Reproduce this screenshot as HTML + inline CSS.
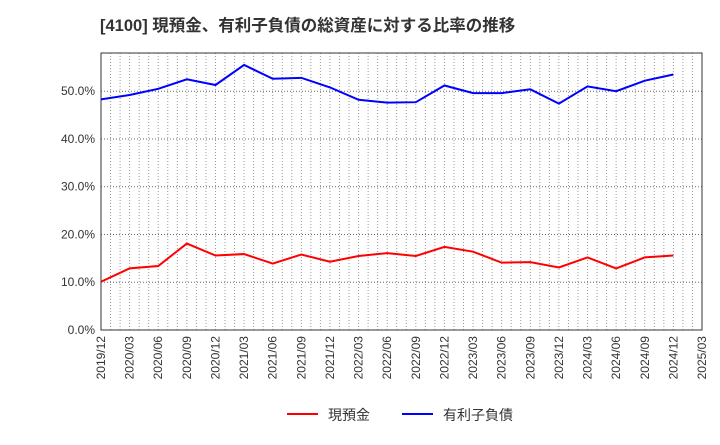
<!DOCTYPE html>
<html><head><meta charset="utf-8"><style>
body{margin:0;background:#fff;font-family:"Liberation Sans","Noto Sans CJK JP",sans-serif;}
</style></head><body>
<svg id="c" width="720" height="440" xmlns="http://www.w3.org/2000/svg">
<text x="100" y="31" font-size="16.5" font-weight="bold" fill="#333" font-family="Liberation Sans,Noto Sans CJK JP,sans-serif">[4100]  現預金、有利子負債の総資産に対する比率の推移</text>
<g id="grid"></g><g id="axes"></g><g id="series"></g>
<g>
<line x1="287" y1="414" x2="318" y2="414" stroke="#f00" stroke-width="2"/>
<text x="328" y="420" font-size="14" fill="#333">現預金</text>
<line x1="402" y1="414" x2="433" y2="414" stroke="#00f" stroke-width="2"/>
<text x="443" y="420" font-size="14" fill="#333">有利子負債</text>
</g>
</svg>
<script>
const categories=["2019/12","2020/03","2020/06","2020/09","2020/12","2021/03","2021/06","2021/09","2021/12","2022/03","2022/06","2022/09","2022/12","2023/03","2023/06","2023/09","2023/12","2024/03","2024/06","2024/09","2024/12","2025/03"];
const cash=[10.1,12.9,13.4,18.1,15.6,15.9,13.9,15.8,14.3,15.5,16.1,15.5,17.4,16.4,14.1,14.2,13.1,15.2,12.9,15.2,15.6];
const debt=[48.3,49.2,50.5,52.5,51.3,55.5,52.6,52.8,50.8,48.2,47.6,47.7,51.2,49.6,49.6,50.4,47.4,51.0,50.0,52.2,53.5];
const yTicks=[0,10,20,30,40,50];
const L=101,R=702,T=53,B=330,yMax=58;
const ns="http://www.w3.org/2000/svg";
const xs=i=>L+(R-L)*i/(categories.length-1);
const ys=v=>B-(B-T)*v/yMax;
function mk(p,t,a){const e=document.createElementNS(ns,t);for(const k in a)e.setAttribute(k,a[k]);p.appendChild(e);return e;}
const g=document.getElementById('grid'),ax=document.getElementById('axes'),s=document.getElementById('series');
const n=(categories.length-1)*3;
for(let m=1;m<n;m++){const x=L+(R-L)*m/n;
 const l=mk(g,'line',{x1:x,y1:T,x2:x,y2:B,stroke:'#999','stroke-dasharray':'1,2','stroke-width':1});
 
 }
yTicks.forEach(v=>{const y=ys(v);
 if(v>0){const l=mk(g,'line',{x1:L,y1:y,x2:R,y2:y,stroke:'#666','stroke-dasharray':'1,2'});
 
 }
 const t=mk(ax,'text',{x:L-6,y:y+4,'font-size':12,'text-anchor':'end',fill:'#333'});t.textContent=v.toFixed(1)+'%';
 
 });
const fr=mk(ax,'rect',{x:L,y:T,width:R-L,height:B-T,fill:'none',stroke:'#333'});


categories.forEach((c,i)=>{const x=xs(i);
 const t=mk(ax,'text',{x:x+4,y:B+6,'font-size':12,'text-anchor':'end',fill:'#333',transform:`rotate(-90 ${x+4} ${B+6})`});t.textContent=c;
 
 });
[[cash,'#f00','cash-line'],[debt,'#00f','debt-line']].forEach(([d,c,nm])=>{
 const p=mk(s,'polyline',{points:d.map((v,i)=>xs(i)+','+ys(v)).join(' '),fill:'none',stroke:c,'stroke-width':2});
 
 });
</script>
</body></html>
